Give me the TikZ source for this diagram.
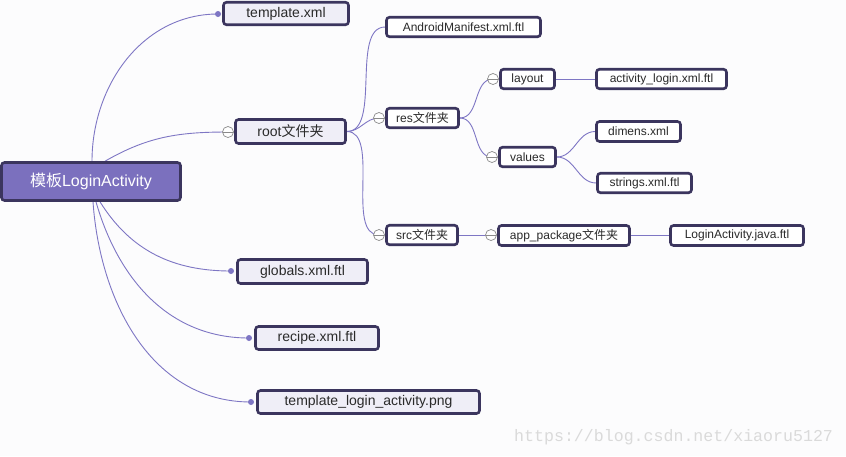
\documentclass[tikz,border=0pt]{standalone}
\usepackage{fontspec}
\setmainfont{Liberation Sans}
\newfontfamily\cjk{Noto Sans CJK SC}
\newfontfamily\wmfont{Liberation Mono}
\usetikzlibrary{backgrounds}
\definecolor{bgc}{HTML}{FCFCFD}
\definecolor{edge}{HTML}{3B355E}
\definecolor{lnc}{HTML}{7E76C4}
\definecolor{mainfill}{HTML}{7B70BE}
\definecolor{lonefill}{HTML}{EFEEF7}
\definecolor{txt}{HTML}{2A2A2A}
\definecolor{wmc}{HTML}{DADADA}
\definecolor{crc}{HTML}{8A8A8A}
\begin{document}
\begin{tikzpicture}[x=1pt,y=-1pt,
 base/.style={draw=edge, line width=2.6pt, rounded corners=3pt, inner sep=0pt, text=txt, align=center},
 mainbox/.style={base, fill=mainfill, text=white, font=\fontsize{16}{18}\selectfont},
 lone/.style={base, fill=lonefill, font=\fontsize{14}{16}\selectfont},
 ltwo/.style={base, fill=white, font=\fontsize{12}{14}\selectfont},
 link/.style={draw=lnc, line width=0.9pt},
 dotn/.style={circle, fill=lnc, inner sep=0pt, minimum size=6pt},
 coll/.style={circle, draw=crc, fill=white, line width=0.7pt, inner sep=0pt, minimum size=11pt,
   path picture={\draw[crc, line width=0.7pt] (path picture bounding box.west) -- (path picture bounding box.east);}},
]
\useasboundingbox (0,0) rectangle (846,456);

% main
\node[mainbox, minimum width=179pt, minimum height=38pt] (main) at (91,181.5) {{\cjk 模板}LoginActivity};

% level 1
\node[lone, minimum width=125pt, minimum height=22.5pt] (tpl) at (286,13.5) {template.xml};
\node[lone, minimum width=110pt, minimum height=24pt] (root) at (290.5,131.5) {root{\cjk 文件夹}};
\node[lone, minimum width=130pt, minimum height=24pt] (glob) at (302.5,271.5) {globals.xml.ftl};
\node[lone, minimum width=123pt, minimum height=23pt] (recipe) at (317,338) {recipe.xml.ftl};
\node[lone, minimum width=222pt, minimum height=23pt] (tla) at (368.5,402) {template\_login\_activity.png};

% level 2+
\node[ltwo, minimum width=154pt, minimum height=19.5pt] (am) at (463.5,27) {AndroidManifest.xml.ftl};
\node[ltwo, minimum width=72pt, minimum height=19.5pt] (res) at (422.5,118) {res{\cjk 文件夹}};
\node[ltwo, minimum width=54pt, minimum height=19.5pt] (layout) at (527.5,79) {layout};
\node[ltwo, minimum width=130pt, minimum height=19.5pt] (actlogin) at (661.5,79) {activity\_login.xml.ftl};
\node[ltwo, minimum width=56pt, minimum height=19.5pt] (values) at (527.5,157) {values};
\node[ltwo, minimum width=84pt, minimum height=20pt] (dimens) at (638.5,131.5) {dimens.xml};
\node[ltwo, minimum width=94pt, minimum height=19.5pt] (strings) at (644.5,183) {strings.xml.ftl};
\node[ltwo, minimum width=71pt, minimum height=19.5pt] (src) at (422,235) {src{\cjk 文件夹}};
\node[ltwo, minimum width=131pt, minimum height=20pt] (app) at (564,235.5) {app\_package{\cjk 文件夹}};
\node[ltwo, minimum width=133pt, minimum height=20pt] (la) at (737,235.5) {LoginActivity.java.ftl};

% collapse circles
\node[coll] (crroot) at (228,132) {};
\node[coll] (crres) at (379,118) {};
\node[coll] (crlayout) at (493,79) {};
\node[coll] (crvalues) at (492,157) {};
\node[coll] (crsrc) at (379,235) {};
\node[coll] (crapp) at (491,235) {};

% dots
\node[dotn] (dtpl) at (218,14) {};
\node[dotn] (dglob) at (231,271) {};
\node[dotn] (drecipe) at (249,338) {};
\node[dotn] (dtla) at (251,402) {};

% watermark
\node[text=wmc, font=\wmfont\fontsize{16.6}{18}\selectfont, anchor=west, inner sep=0pt] (wm) at (514,437) {https://blog.csdn.net/xiaoru5127};

\begin{scope}[on background layer]
\fill[bgc] (0,0) rectangle (846,456);
\draw[link] ([xshift=1pt]main.north) to[out=90,in=180] (dtpl.center);
\draw[link] ([xshift=14pt]main.north) to[out=30,in=180] (crroot.center);
\draw[link] ([xshift=9pt]main.south) to[out=-58,in=180] (dglob.center);
\draw[link] ([xshift=5pt]main.south) to[out=-74,in=180] (drecipe.center);
\draw[link] ([xshift=2pt]main.south) to[out=-86,in=180] (dtla.center);
\draw[link] (root.east) to[out=0,in=180,looseness=0.8] (am.west);
\draw[link] (root.east) to[out=0,in=180] (crres.center);
\draw[link] (root.east) to[out=0,in=180,looseness=0.8] (crsrc.center);
\draw[link] (res.east) to[out=0,in=180] (crlayout.center);
\draw[link] (res.east) to[out=0,in=180] (crvalues.center);
\draw[link] (layout.east) -- (actlogin.west);
\draw[link] (values.east) to[out=0,in=180] (dimens.west);
\draw[link] (values.east) to[out=0,in=180] (strings.west);
\draw[link] (src.east) -- (crapp.center);
\draw[link] (app.east) -- (la.west);
\end{scope}
\end{tikzpicture}
\end{document}
